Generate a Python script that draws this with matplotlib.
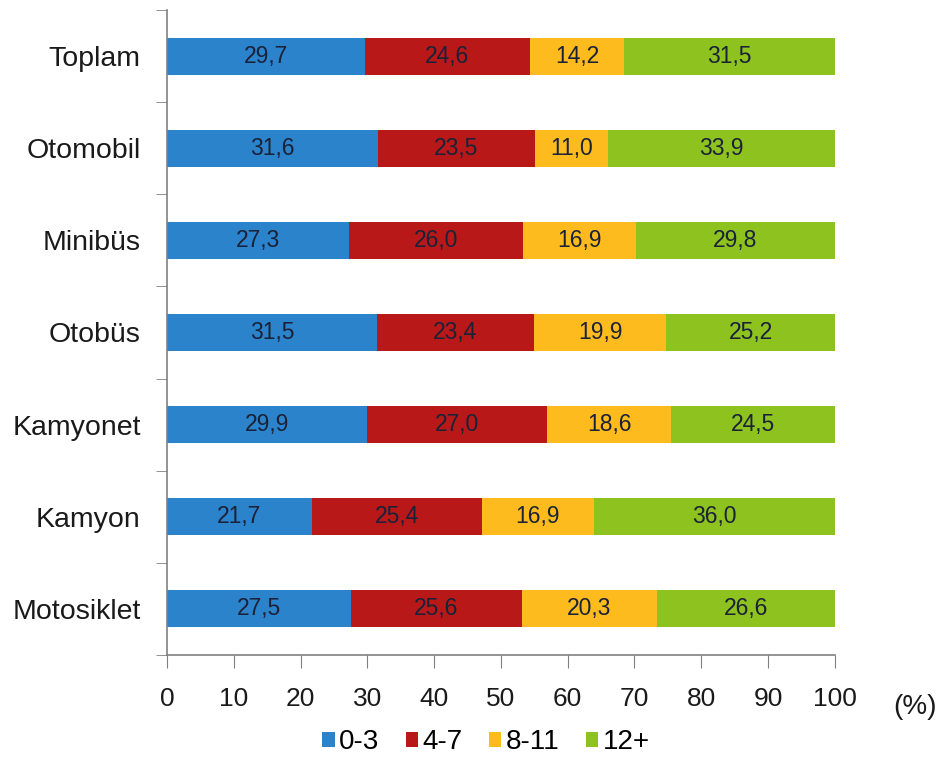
import matplotlib
matplotlib.use("Agg")
import matplotlib.pyplot as plt
import numpy as np

categories = ["Toplam", "Otomobil", "Minibüs", "Otobüs", "Kamyonet", "Kamyon", "Motosiklet"]
series_names = ["0-3", "4-7", "8-11", "12+"]
v_0_3 = [29.7, 31.6, 27.3, 31.5, 29.9, 21.7, 27.5]
v_4_7 = [24.6, 23.5, 26.0, 23.4, 27.0, 25.4, 25.6]
v_8_11 = [14.2, 11.0, 16.9, 19.9, 18.6, 16.9, 20.3]
v_12p = [31.5, 33.9, 29.8, 25.2, 24.5, 36.0, 26.6]
series = [v_0_3, v_4_7, v_8_11, v_12p]
colors = ["#2B83CB", "#B81818", "#FDBB1E", "#8DC21F"]

plt.rcParams['font.family'] = ['Liberation Sans', 'DejaVu Sans']

fig = plt.figure(figsize=(9.4, 7.71), dpi=100)
ax = fig.add_axes([0.1777, 0.1505, 0.888 - 0.1777, 0.987 - 0.1505])

y = np.arange(len(categories))
left = np.zeros(len(categories))
for vals, c, name in zip(series, colors, series_names):
    vals = np.array(vals)
    ax.barh(y, vals, left=left, height=0.4, color=c, label=name)
    for yi, l, v in zip(y, left, vals):
        ax.text(l + v / 2, yi, f"{v:.1f}".replace(".", ","), ha="center", va="center",
                fontsize=16.5, color="#1b2238")
    left += vals

ax.set_xlim(0, 100)
ax.set_ylim(len(categories) - 0.5, -0.5)
ax.set_xticks(np.arange(0, 101, 10))
ax.set_yticks(y)
ax.set_yticklabels(categories)
ax.set_yticks(np.arange(-0.5, len(categories), 1), minor=True)
ax.tick_params(axis='y', which='major', length=0, labelsize=20.5, pad=19, labelcolor='#1a1a1a')
ax.tick_params(axis='y', which='minor', length=8, color='#808080', direction='out')
ax.tick_params(axis='x', labelsize=19, length=9, color='#808080', pad=14, labelcolor='#1a1a1a')
for s in ['top', 'right']:
    ax.spines[s].set_visible(False)
for s in ['left', 'bottom']:
    ax.spines[s].set_color('#808080')
    ax.spines[s].set_linewidth(1.2)

fig.text(915 / 940, 1 - 707 / 771, "(%)", fontsize=20, ha="center", va="center", color='#1a1a1a')

leg = fig.legend(loc="center", bbox_to_anchor=(486 / 940, 1 - 742 / 771), ncol=4,
                 frameon=False, fontsize=20, handlelength=0.45, handleheight=0.45,
                 handletextpad=0.15, columnspacing=0.95)

fig.savefig("out.png", dpi=100)
